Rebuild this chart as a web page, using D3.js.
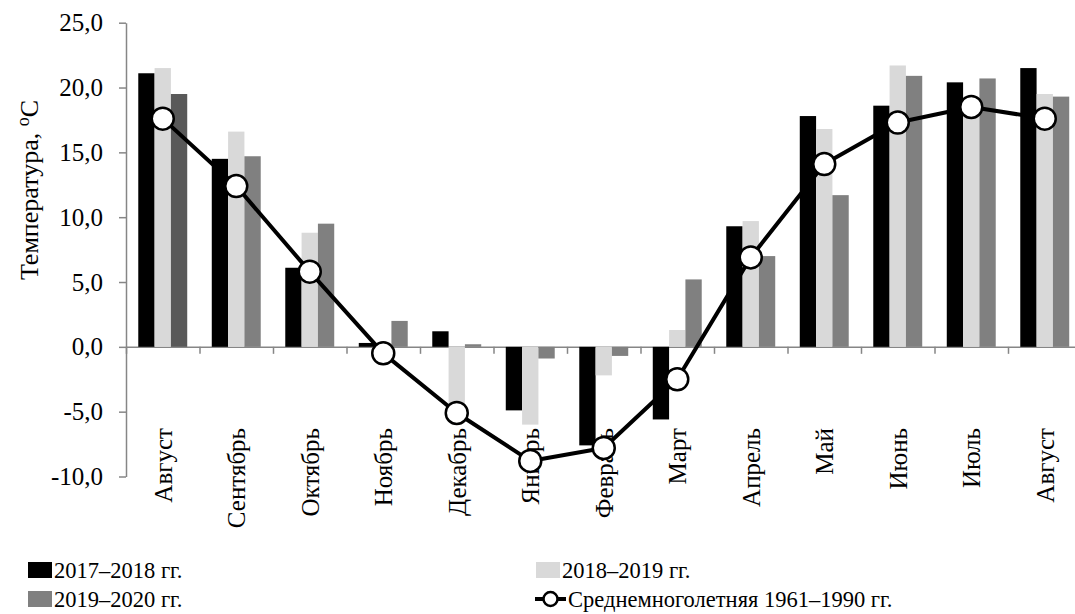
<!DOCTYPE html>
<html lang="ru">
<head>
<meta charset="utf-8">
<script src="https://cdn.jsdelivr.net/npm/d3@7"></script>
<style>
  html, body { margin: 0; padding: 0; background: #fff; }
  svg { display: block; }
  svg text { font-family: "Liberation Serif", "Times New Roman", serif; fill: #000; }
</style>
</head>
<body>
<svg id="chart" width="1075" height="614"></svg>
<script>
// Месяцы сезона (август — август)
const categories = ["Август", "Сентябрь", "Октябрь", "Ноябрь", "Декабрь", "Январь", "Февраль",
                    "Март", "Апрель", "Май", "Июнь", "Июль", "Август"];

// Среднемесячная температура воздуха, °C
const temp2017_2018 = [21.1, 14.5, 6.1, 0.3, 1.2, -4.9, -7.6, -5.6, 9.3, 17.8, 18.6, 20.4, 21.5];
const temp2018_2019 = [21.5, 16.6, 8.8, -0.2, -4.9, -6.0, -2.2, 1.3, 9.7, 16.8, 21.7, 18.3, 19.5];
const temp2019_2020 = [19.5, 14.7, 9.5, 2.0, 0.2, -0.9, -0.7, 5.2, 7.0, 11.7, 20.9, 20.7, 19.3];
const tempNorm1961_1990 = [17.6, 12.4, 5.8, -0.5, -5.1, -8.8, -7.8, -2.5, 6.9, 14.1, 17.3, 18.5, 17.6];

const seriesNames = ["2017–2018 гг.", "2018–2019 гг.", "2019–2020 гг."];
const lineName = "Среднемноголетняя 1961–1990 гг.";
const yTicks = [-10, -5, 0, 5, 10, 15, 20, 25];

(function draw() {
  const barSeries = [temp2017_2018, temp2018_2019, temp2019_2020];
  const barColors = ["#000000", "#d9d9d9", "#808080"];
  const axisColor = "#868686";
  const serif = "Liberation Serif";

  const svg = d3.select("#chart");
  svg.append("rect").attr("width", 1075).attr("height", 614).attr("fill", "#fff");

  const plotLeft = 126, plotRight = 1081.5, plotTop = 22.7, plotBottom = 476.5;

  const x = d3.scaleBand().domain(d3.range(categories.length)).range([plotLeft, plotRight]).padding(0);
  const xEdge = d3.scaleLinear().domain([0, categories.length]).range([plotLeft, plotRight]);
  const xs = d3.scaleBand().domain(d3.range(barSeries.length))
    .range([x.bandwidth() * 0.167, x.bandwidth() * 0.833]).padding(0);
  const y = d3.scaleLinear().domain([-10, 25]).range([plotBottom, plotTop]);

  const fmt = v => d3.format(".1f")(v).replace(".", ",").replace("−", "-");

  // Ось Y
  const yAxis = svg.append("g")
    .attr("transform", `translate(${plotLeft},0)`)
    .call(d3.axisLeft(y).tickValues(yTicks).tickFormat(fmt).tickSize(7).tickSizeOuter(0).tickPadding(16))
    .attr("font-family", serif).attr("font-size", 25);
  yAxis.select(".domain").attr("stroke", axisColor).attr("stroke-width", 1.5);
  yAxis.selectAll(".tick line").attr("stroke", axisColor).attr("stroke-width", 1.5);
  yAxis.selectAll(".tick text").attr("fill", "#000").attr("font-size", 25).attr("font-family", serif);

  // Ось X на уровне нуля
  const xAxis = svg.append("g")
    .attr("transform", `translate(0,${y(0)})`)
    .call(d3.axisBottom(xEdge).tickValues(d3.range(categories.length + 1)).tickFormat("").tickSize(7).tickSizeOuter(0));
  xAxis.select(".domain").attr("stroke", axisColor).attr("stroke-width", 1.5);
  xAxis.selectAll(".tick line").attr("stroke", axisColor).attr("stroke-width", 1.5);

  // Подписи месяцев
  svg.append("g").selectAll("text")
    .data(categories)
    .join("text")
    .attr("transform", (d, i) => `translate(${x(i) + x.bandwidth() / 2},428) rotate(-90)`)
    .attr("dy", "0.35em")
    .attr("text-anchor", "end")
    .attr("font-family", serif)
    .attr("font-size", 25)
    .text(d => d);

  // Столбцы
  barSeries.forEach((vals, s) => {
    svg.append("g").selectAll("rect")
      .data(vals)
      .join("rect")
      .attr("x", (d, i) => x(i) + xs(s))
      .attr("width", xs.bandwidth())
      .attr("y", d => y(Math.max(0, d)))
      .attr("height", d => Math.abs(y(d) - y(0)))
      .attr("fill", (d, i) => (s === 2 && i === 0) ? "#595959" : barColors[s]);
  });

  // Среднемноголетняя линия
  const line = d3.line().x((d, i) => x(i) + x.bandwidth() / 2).y(d => y(d));
  svg.append("path")
    .datum(tempNorm1961_1990)
    .attr("d", line)
    .attr("fill", "none")
    .attr("stroke", "#000")
    .attr("stroke-width", 4)
    .attr("stroke-linejoin", "round");
  svg.append("g").selectAll("circle")
    .data(tempNorm1961_1990)
    .join("circle")
    .attr("cx", (d, i) => x(i) + x.bandwidth() / 2)
    .attr("cy", d => y(d))
    .attr("r", 11)
    .attr("fill", "#fff")
    .attr("stroke", "#000")
    .attr("stroke-width", 2.5);

  // Подпись оси Y
  const yTitle = svg.append("text")
    .attr("transform", "translate(38,190) rotate(-90)")
    .attr("text-anchor", "middle")
    .attr("font-family", serif)
    .attr("font-size", 26);
  yTitle.append("tspan").text("Температура,  ");
  yTitle.append("tspan").attr("font-size", 18).attr("dy", -9).text("о");
  yTitle.append("tspan").attr("dy", 9).text("С");

  // Легенда
  const legendItems = [
    { type: "bar", color: barColors[0], label: seriesNames[0], x: 28, y: 570 },
    { type: "bar", color: barColors[1], label: seriesNames[1], x: 536, y: 570 },
    { type: "bar", color: barColors[2], label: seriesNames[2], x: 28, y: 599 },
    { type: "line", label: lineName, x: 535, y: 599 }
  ];
  const lg = svg.append("g").attr("font-family", serif).attr("font-size", 22.5);
  legendItems.forEach(it => {
    if (it.type === "bar") {
      lg.append("rect").attr("x", it.x).attr("y", it.y - 8).attr("width", 24).attr("height", 16).attr("fill", it.color);
      lg.append("text").attr("x", it.x + 26).attr("y", it.y).attr("dy", "0.35em").text(it.label);
    } else {
      lg.append("line").attr("x1", it.x).attr("x2", it.x + 31).attr("y1", it.y).attr("y2", it.y)
        .attr("stroke", "#000").attr("stroke-width", 4);
      lg.append("circle").attr("cx", it.x + 15.5).attr("cy", it.y).attr("r", 7)
        .attr("fill", "#fff").attr("stroke", "#000").attr("stroke-width", 2.5);
      lg.append("text").attr("x", it.x + 33).attr("y", it.y).attr("dy", "0.35em").text(it.label);
    }
  });
})();
</script>
</body>
</html>
